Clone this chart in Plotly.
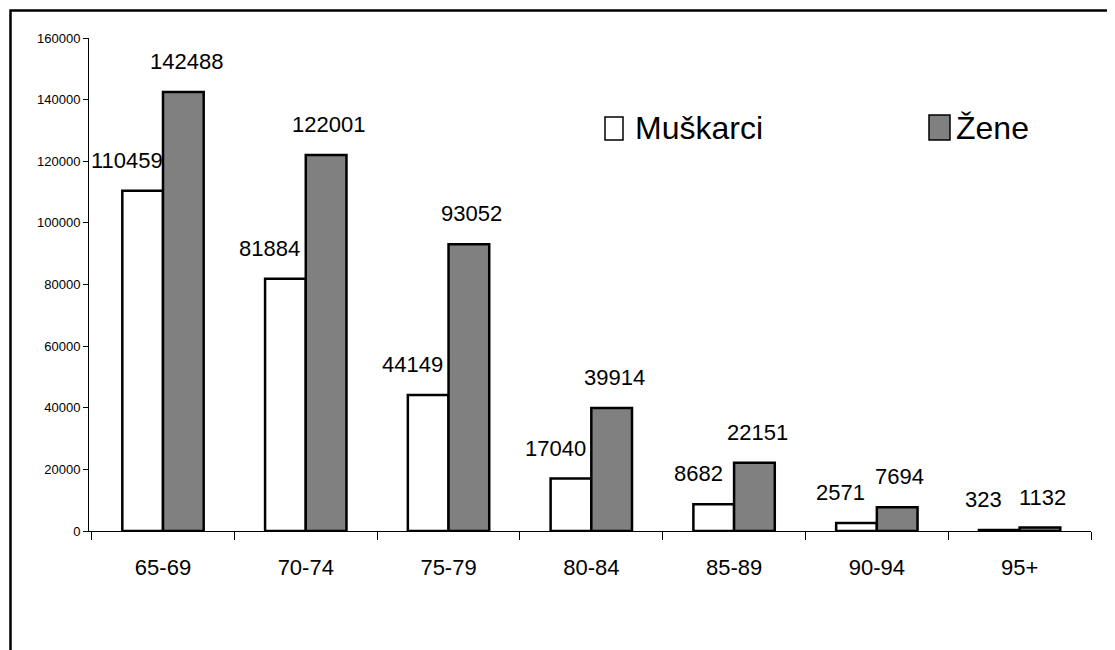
import plotly.graph_objects as go

categories = ["65-69", "70-74", "75-79", "80-84", "85-89", "90-94", "95+"]
muskarci = [110459, 81884, 44149, 17040, 8682, 2571, 323]
zene = [142488, 122001, 93052, 39914, 22151, 7694, 1132]
series_names = ["Muškarci", "Žene"]
y_ticks = [0, 20000, 40000, 60000, 80000, 100000, 120000, 140000, 160000]

# page body has an 8px margin; figure coordinates below are page coords minus 8
OFF = 8
W, H = 1107, 642
L, T = 89 - OFF, 38 - OFF
PLOT_BOTTOM = 531 - OFF
PLOT_RIGHT = 1091 - OFF
R, B = W - PLOT_RIGHT, H - PLOT_BOTTOM
PW, PH = W - L - R, H - T - B

def xp(px):
    return (px - OFF - L) / PW

def yp(py):
    return (PLOT_BOTTOM - (py - OFF)) / PH

FONT = "Liberation Sans, Arial, sans-serif"

fig = go.Figure()
fig.add_trace(go.Bar(x=categories, y=muskarci, name=series_names[0],
                     marker=dict(color="white", line=dict(color="black", width=2.5)),
                     showlegend=False))
fig.add_trace(go.Bar(x=categories, y=zene, name=series_names[1],
                     marker=dict(color="#808080", line=dict(color="black", width=2.5)),
                     showlegend=False))

annotations = []
for c, v in zip(categories, muskarci):
    annotations.append(dict(x=c, y=v, text=str(v), showarrow=False, xanchor="center",
                            yanchor="bottom", xshift=-36, yshift=16,
                            font=dict(family=FONT, size=22, color="black")))
for c, v in zip(categories, zene):
    annotations.append(dict(x=c, y=v, text=str(v), showarrow=False, xanchor="center",
                            yanchor="bottom", xshift=23, yshift=16,
                            font=dict(family=FONT, size=22, color="black")))

# legend (manual, matching the reference look)
annotations.append(dict(xref="paper", yref="paper", x=xp(633), y=yp(148), text=series_names[0],
                        showarrow=False, xanchor="left", yanchor="bottom",
                        font=dict(family=FONT, size=32, color="black")))
annotations.append(dict(xref="paper", yref="paper", x=xp(954), y=yp(148), text=series_names[1],
                        showarrow=False, xanchor="left", yanchor="bottom",
                        font=dict(family=FONT, size=32, color="black")))

shapes = [
    dict(type="rect", xref="paper", yref="paper", x0=xp(605), x1=xp(623), y0=yp(140), y1=yp(117),
         line=dict(color="black", width=1.5), fillcolor="white"),
    dict(type="rect", xref="paper", yref="paper", x0=xp(929), x1=xp(950), y0=yp(140), y1=yp(115),
         line=dict(color="black", width=1.5), fillcolor="#808080"),
    # outer chart border
    dict(type="rect", xref="paper", yref="paper", x0=xp(10.5), x1=xp(1140), y0=yp(690), y1=yp(10.5),
         line=dict(color="black", width=2.5), fillcolor="rgba(0,0,0,0)", layer="above"),
]

fig.update_layout(
    width=W, height=H,
    margin=dict(l=L, r=R, t=T, b=B, autoexpand=False),
    paper_bgcolor="white", plot_bgcolor="white",
    barmode="group", bargap=0.43, bargroupgap=0,
    annotations=annotations, shapes=shapes,
    showlegend=False,
)
fig.update_xaxes(type="category", showline=True, linecolor="black", linewidth=1,
                 ticks="outside", tickson="boundaries", ticklen=8, tickcolor="black",
                 tickfont=dict(family=FONT, size=22, color="black"),
                 ticklabelstandoff=17, showgrid=False, automargin=False)
fig.update_yaxes(range=[0, 160000], tickvals=y_ticks, tickformat="d",
                 showline=True, linecolor="black", linewidth=1,
                 ticks="outside", ticklen=5, tickcolor="black",
                 tickfont=dict(family=FONT, size=13, color="black"),
                 showgrid=False, zeroline=False, automargin=False)

fig.write_html("out.html")
